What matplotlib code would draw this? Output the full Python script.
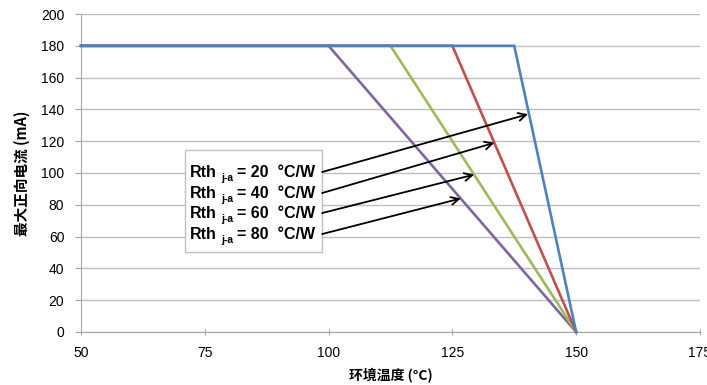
import matplotlib
matplotlib.use('Agg')
import matplotlib.pyplot as plt
from matplotlib.patches import Rectangle

# derating curves: temperature (C) vs max forward current (mA)
rth_values = [20, 40, 60, 80]
temps = {
    20: [50, 137.5, 150],
    40: [50, 125, 150],
    60: [50, 112.5, 150],
    80: [50, 100, 150],
}
currents = [180, 180, 0]
colors = {20: '#4F81BD', 40: '#C0504D', 60: '#9BBB59', 80: '#8064A2'}

# arrow targets on each curve
arrow_x = [140.3, 133.5, 129.4, 126.7]
arrow_y = [137, 119, 99, 84]

xticks = [50, 75, 100, 125, 150, 175]
yticks = list(range(0, 201, 20))

plt.rcParams['font.family'] = ['Liberation Sans', 'Noto Sans CJK SC', 'DejaVu Sans']

fig = plt.figure(figsize=(7.07, 3.85), dpi=100)
ax = fig.add_axes([0.1146, 0.1377, 0.8754, 0.8259])

for r in reversed(rth_values):
    ax.plot(temps[r], currents, color=colors[r], lw=1.9, zorder=3,
            solid_joinstyle='miter', clip_on=False)

ax.set_xlim(50, 175)
ax.set_ylim(0, 200)
ax.set_xticks(xticks)
ax.set_yticks(yticks)
ax.tick_params(axis='both', labelsize=10, color='#A6A6A6', length=4)
ax.tick_params(axis='x', direction='inout', pad=8)
ax.tick_params(axis='y', direction='out', pad=8)
ax.grid(axis='y', color='#BFBFBF', lw=1)
ax.set_axisbelow(True)
for s in ['top', 'right']:
    ax.spines[s].set_visible(False)
for s in ['left', 'bottom']:
    ax.spines[s].set_color('#A6A6A6')

ax.set_xlabel('环境温度 (°C)', fontsize=10, fontweight='bold',
              family=['Noto Sans CJK SC', 'DejaVu Sans'], labelpad=6)
ax.set_ylabel('最大正向电流 (mA)', fontsize=10.5, fontweight='bold',
              family=['Noto Sans CJK SC', 'DejaVu Sans'], labelpad=8)

# legend-like box
box = Rectangle((71.0, 50.3), 27.7, 64.2, facecolor='white',
                edgecolor='#BFBFBF', lw=1, zorder=4)
ax.add_patch(box)

label_y = [100.6, 87.4, 74.8, 61.6]
for r, ly, ax_, ay_ in zip(rth_values, label_y, arrow_x, arrow_y):
    ax.annotate('Rth', xy=(72.0, ly), fontsize=11.5, fontweight='bold',
                va='center', ha='left', zorder=5)
    ax.annotate('j-a', xy=(72.0, ly), xytext=(22.5, -4), textcoords='offset points',
                fontsize=7.5, fontweight='bold', va='center', ha='left', zorder=5)
    ax.annotate(f'= {r}  °C/W', xy=(72.0, ly), xytext=(34, 0), textcoords='offset points',
                fontsize=11.5, fontweight='bold', va='center', ha='left', zorder=5)
    ax.annotate('', xy=(ax_, ay_), xytext=(98.7, ly),
                arrowprops=dict(arrowstyle='->', color='black', lw=1.3,
                                shrinkA=0, shrinkB=0, mutation_scale=14),
                zorder=6)

fig.savefig('out.png', dpi=100)
